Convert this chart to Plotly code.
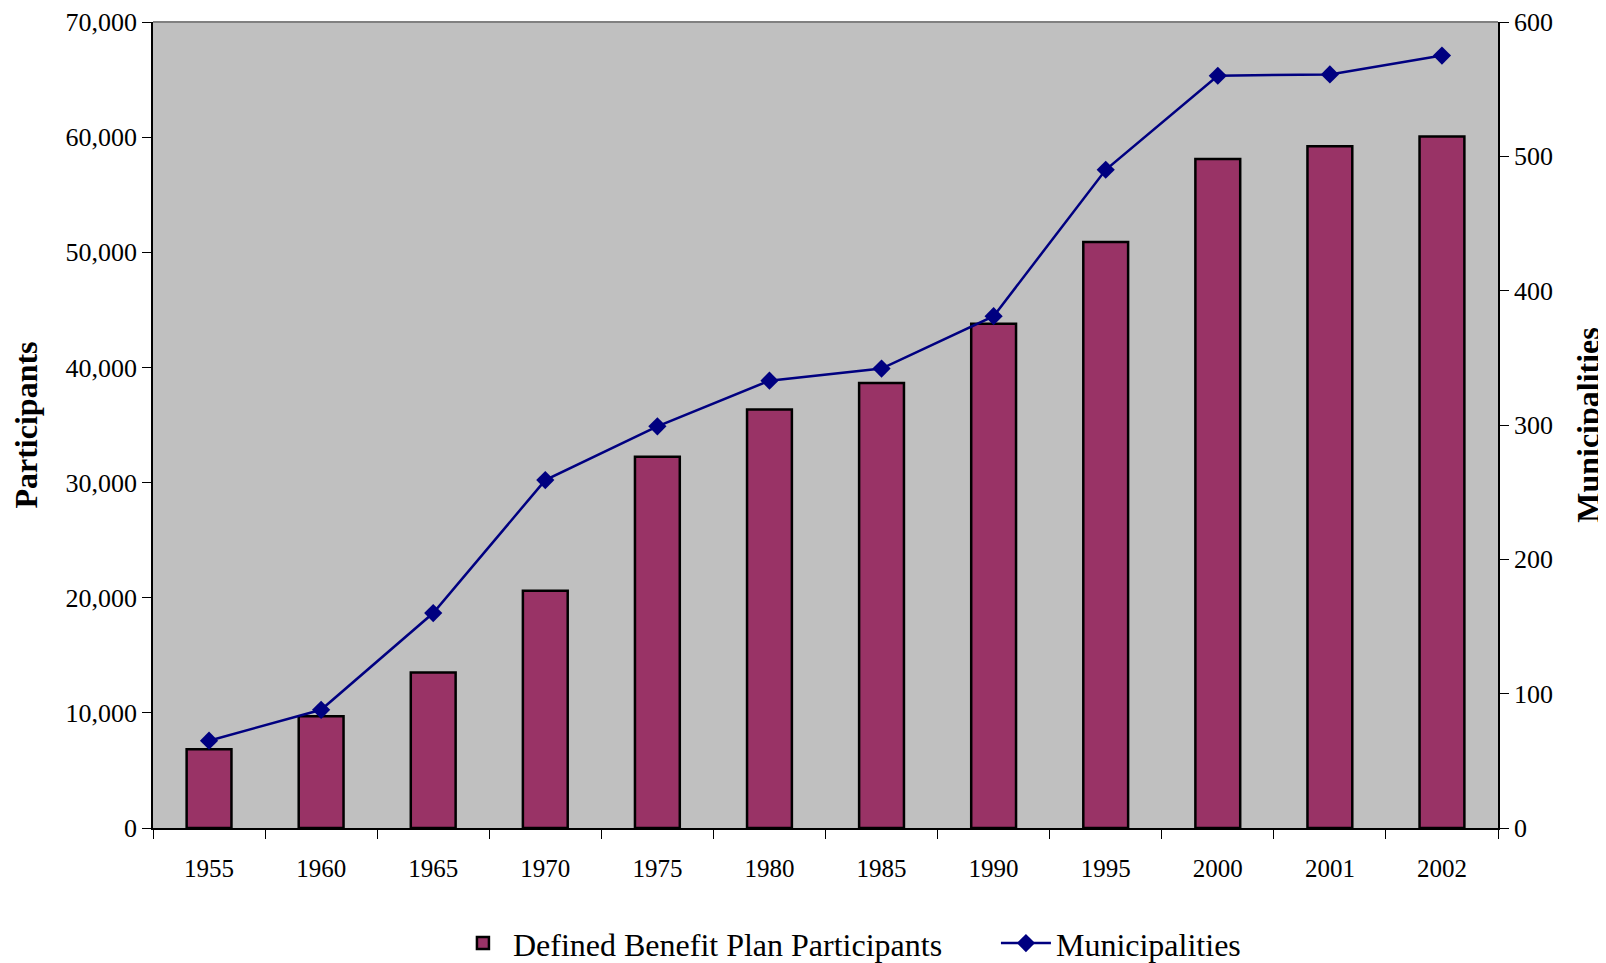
import plotly.graph_objects as go

years = ["1955", "1960", "1965", "1970", "1975", "1980", "1985", "1990", "1995", "2000", "2001", "2002"]
participants = [6850, 9700, 13500, 20600, 32250, 36350, 38650, 43800, 50900, 58100, 59200, 60050]
municipalities = [65, 88, 160, 259, 299, 333, 342, 381, 490, 560, 561, 575]

left_ticks = [0, 10000, 20000, 30000, 40000, 50000, 60000, 70000]
right_ticks = [0, 100, 200, 300, 400, 500, 600]

FONT = "Liberation Serif, Times New Roman, serif"

fig = go.Figure()
fig.add_trace(go.Bar(
    x=years, y=participants, name="Defined Benefit Plan Participants",
    marker=dict(color="#993366", line=dict(color="black", width=2.5)),
    width=0.4,
))
fig.add_trace(go.Scatter(
    x=years, y=municipalities, name="Municipalities", yaxis="y2",
    mode="lines+markers",
    line=dict(color="#000080", width=2.5),
    marker=dict(symbol="diamond", size=14, color="#000080"),
))

fig.update_layout(
    width=1598, height=955,
    paper_bgcolor="white", plot_bgcolor="#C0C0C0",
    margin=dict(l=145, r=108, t=14, b=135, autoexpand=False),
    font=dict(family=FONT, size=25, color="black"),
    showlegend=True,
    legend=dict(orientation="h", x=0.223, y=-0.143, xanchor="left", yanchor="middle",
                font=dict(family=FONT, size=32), entrywidth=478, entrywidthmode="pixels",
                itemwidth=50, bgcolor="rgba(0,0,0,0)"),
    xaxis=dict(type="category", range=[-0.5, 11.5], tickson="boundaries", ticks="outside", ticklen=9,
               tickcolor="black", showline=True, linecolor="black", linewidth=1.5,
               showgrid=False, tickfont=dict(size=25), ticklabelstandoff=17, automargin=False),
    yaxis=dict(range=[0, 70000], tickvals=left_ticks, tickformat=",d",
               ticks="outside", ticklen=9, tickcolor="black", automargin=False,
               showline=True, linecolor="black", linewidth=1.5, showgrid=False, zeroline=False,
               tickfont=dict(size=26),
               title=dict(text="<b>Participants</b>", font=dict(size=32), standoff=22)),
    yaxis2=dict(range=[0, 600], tickvals=right_ticks, overlaying="y", side="right",
                ticks="outside", ticklen=9, tickcolor="black", automargin=False,
                showline=True, linecolor="black", linewidth=1.5, showgrid=False, zeroline=False,
                tickfont=dict(size=26),
                title=dict(text="<b>Municipalities</b>", font=dict(size=32), standoff=28)),
    shapes=[dict(type="line", xref="paper", yref="paper", x0=0, x1=1, y0=1, y1=1,
                 line=dict(color="#808080", width=2))],
)

fig.write_html("out.html")
